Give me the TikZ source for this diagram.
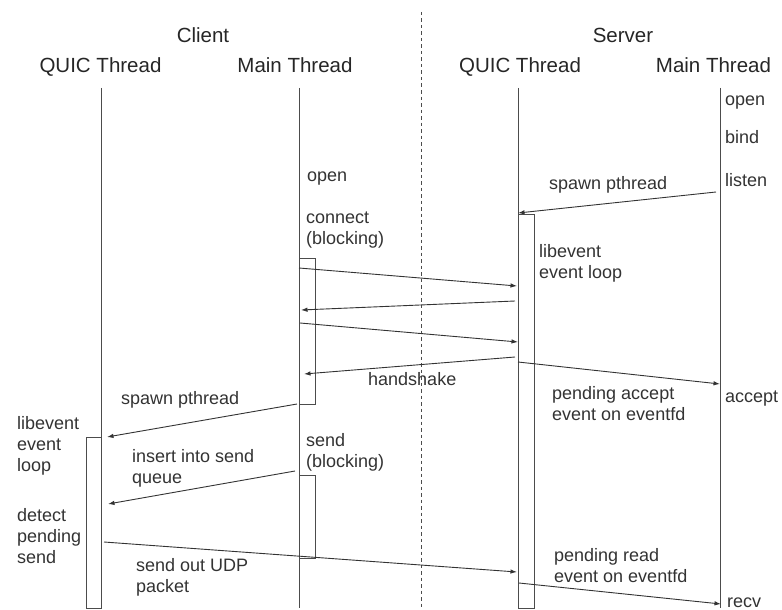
\documentclass[tikz,border=0pt]{standalone}
\usepackage{fontspec}
\setmainfont{Liberation Sans}
\usetikzlibrary{arrows.meta}

\begin{document}
\begin{tikzpicture}[x=1pt,y=-1pt,
  lifeline/.style={draw=black!70, line width=1pt},
  divider/.style={draw=black!70, line width=0.9pt, dash pattern=on 3.5pt off 3pt},
  actbox/.style={draw=black!70, line width=1pt, fill=none, inner sep=0pt, anchor=north west},
  msg/.style={draw=black!80, line width=0.9pt, -{Latex[length=6.5pt,width=4.5pt]}},
  title/.style={font=\fontsize{20.5}{24}\selectfont, text=black!85, inner sep=0pt, anchor=base},
  % multi-line notes are placed by the baseline of their last line
  note/.style={font=\fontsize{18}{21}\selectfont, text=black!80, inner sep=0pt, anchor=base west, align=left},
]
\useasboundingbox (0,0) rectangle (782,610);

% column headings
\node[title] (client) at (203,43) {Client};
\node[title] (server) at (623,43) {Server};
\node[title] (cqHead) at (100.5,73) {QUIC Thread};
\node[title] (cmHead) at (295,73) {Main Thread};
\node[title] (sqHead) at (520,73) {QUIC Thread};
\node[title] (smHead) at (713.5,73) {Main Thread};

% lifelines and the client/server divider
\coordinate (cqT) at (101,88);  \coordinate (cqB) at (101,608);
\coordinate (cmT) at (299,88);  \coordinate (cmB) at (299,608);
\coordinate (sqT) at (518,88);  \coordinate (sqB) at (518,608);
\coordinate (smT) at (720,88);  \coordinate (smB) at (720,608);
\coordinate (divT) at (421,12); \coordinate (divB) at (421,610);
\draw[lifeline] (cqT) -- (cqB);
\draw[lifeline] (cmT) -- (cmB);
\draw[lifeline] (sqT) -- (sqB);
\draw[lifeline] (smT) -- (smB);
\draw[divider] (divT) -- (divB);

% activation bars
\node[actbox, minimum width=16pt, minimum height=146pt] (cmAct1) at (299,258) {};
\node[actbox, minimum width=16pt, minimum height=83pt]  (cmAct2) at (299,475) {};
\node[actbox, minimum width=16pt, minimum height=394pt] (sqAct)  at (518,214) {};
\node[actbox, minimum width=15pt, minimum height=171pt] (cqAct)  at (86,437) {};

% message end points
\coordinate (m1a) at (716,192); \coordinate (m1b) at (518,213);
\coordinate (m2a) at (299,268); \coordinate (m2b) at (517,286);
\coordinate (m3a) at (515,301); \coordinate (m3b) at (301,310);
\coordinate (m4a) at (300,323); \coordinate (m4b) at (518,342);
\coordinate (m5a) at (515,357); \coordinate (m5b) at (304,374);
\coordinate (m6a) at (518,362); \coordinate (m6b) at (720,384);
\coordinate (m7a) at (297,404); \coordinate (m7b) at (107,437);
\coordinate (m8a) at (295,471); \coordinate (m8b) at (108,504);
\coordinate (m9a) at (104,542); \coordinate (m9b) at (517,572);
\coordinate (m10a) at (519,583); \coordinate (m10b) at (721,604);

\draw[msg] (m1a) -- (m1b);
\draw[msg] (m2a) -- (m2b);
\draw[msg] (m3a) -- (m3b);
\draw[msg] (m4a) -- (m4b);
\draw[msg] (m5a) -- (m5b);
\draw[msg] (m6a) -- (m6b);
\draw[msg] (m7a) -- (m7b);
\draw[msg] (m8a) -- (m8b);
\draw[msg] (m9a) -- (m9b);
\draw[msg] (m10a) -- (m10b);

% server main thread calls
\node[note] (sOpen)   at (725,106) {open};
\node[note] (sBind)   at (725,143) {bind};
\node[note] (sListen) at (725,186) {listen};
\node[note] (sAccept) at (725,402) {accept};
\node[note] (sRecv)   at (727,607) {recv};

% server QUIC thread notes
\node[note] (sLoop)    at (539,278) {libevent\\event loop};
\node[note] (sPendAcc) at (552,420) {pending accept\\event on eventfd};
\node[note] (sPendRd)  at (554,582) {pending read\\event on eventfd};

% client main thread calls
\node[note] (cOpen)    at (307,181) {open};
\node[note] (cConnect) at (306,244) {connect\\(blocking)};
\node[note] (cSend)    at (306,467) {send\\(blocking)};

% client QUIC thread notes
\node[note] (cLoop)   at (17,471) {libevent\\event\\loop};
\node[note] (cDetect) at (17,563) {detect\\pending\\send};

% message labels
\node[note] (lSpawnS)  at (549,189) {spawn pthread};
\node[note] (lHand)    at (368,385) {handshake};
\node[note] (lSpawnC)  at (121,404) {spawn pthread};
\node[note] (lInsert)  at (132,483) {insert into send\\queue};
\node[note] (lUdp)     at (136,592) {send out UDP\\packet};
\end{tikzpicture}
\end{document}
